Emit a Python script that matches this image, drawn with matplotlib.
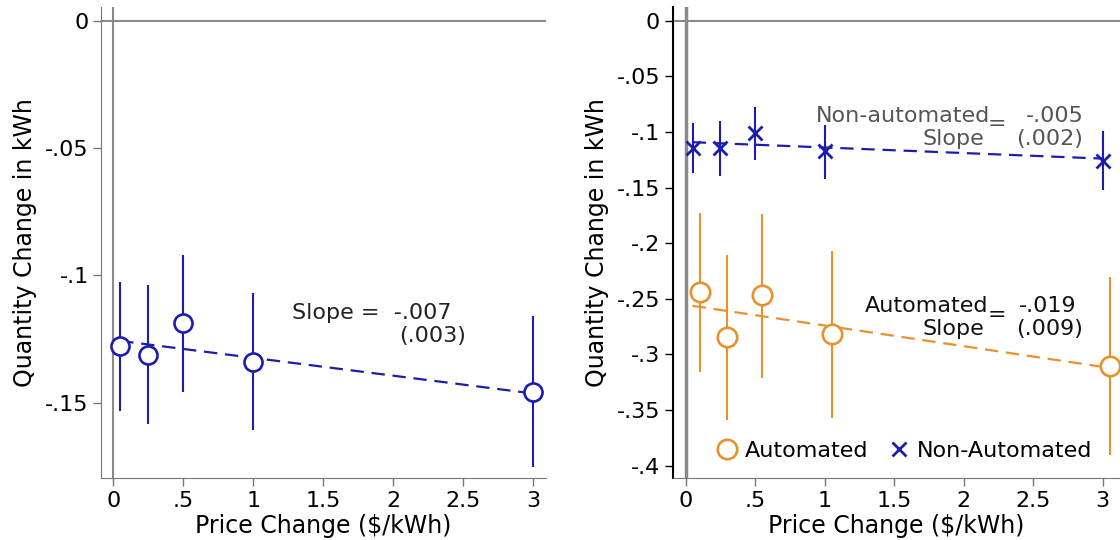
import matplotlib
matplotlib.use('Agg')
import matplotlib.pyplot as plt
from matplotlib.lines import Line2D
import numpy as np

plt.rcParams['font.family'] = ['DejaVu Sans']

# left panel: all households
price_all = [0.05, 0.25, 0.5, 1, 3]
qty_all = [-0.1278, -0.1312, -0.1187, -0.1339, -0.1457]
hi_all = [-0.1028, -0.1037, -0.0920, -0.1069, -0.1160]
lo_all = [-0.1531, -0.1585, -0.1458, -0.1607, -0.1751]
fit_all = (-0.1254, -0.007)

# right panel: automated vs non-automated
price_auto = [0.1, 0.3, 0.55, 1.05, 3.05]
qty_auto = [-0.2440, -0.2842, -0.2470, -0.2817, -0.3105]
hi_auto = [-0.1728, -0.2105, -0.1740, -0.2074, -0.2307]
lo_auto = [-0.3158, -0.3585, -0.3214, -0.3567, -0.3907]
fit_auto = (-0.2554, -0.0186)

price_non = [0.05, 0.25, 0.5, 1, 3]
qty_non = [-0.1146, -0.1146, -0.1012, -0.1176, -0.1257]
hi_non = [-0.0920, -0.0898, -0.0780, -0.0938, -0.0990]
lo_non = [-0.1370, -0.1393, -0.1254, -0.1424, -0.1523]
fit_non = (-0.1090, -0.005)

xticks = [0, 0.5, 1, 1.5, 2, 2.5, 3]
xticklabels = ['0', '.5', '1', '1.5', '2', '2.5', '3']
yticks_left = [0, -0.05, -0.1, -0.15]
yticklabels_left = ['0', '-.05', '-.1', '-.15']
yticks_right = [0, -0.05, -0.1, -0.15, -0.2, -0.25, -0.3, -0.35, -0.4]
yticklabels_right = ['0', '-.05', '-.1', '-.15', '-.2', '-.25', '-.3', '-.35', '-.4']

BLUE = '#1c1cb0'
ORANGE = '#e8922e'
GRAY = '#8a8a8a'
FS = 16


def err(q, lo, hi):
    q, lo, hi = np.array(q), np.array(lo), np.array(hi)
    return [q - lo, hi - q]


def style(ax, spine_color):
    for s in ['top', 'right']:
        ax.spines[s].set_visible(False)
    ax.spines['left'].set_color(spine_color)
    ax.spines['bottom'].set_color('#777777')
    ax.tick_params(direction='out', length=6, width=1, labelsize=FS, pad=3)
    ax.tick_params(axis='x', color='#777777')
    ax.tick_params(axis='y', color=spine_color)
    ax.set_xticks(xticks)
    ax.set_xticklabels(xticklabels)
    ax.set_xlabel('Price Change ($/kWh)', fontsize=17)
    ax.set_ylabel('Quantity Change in kWh', fontsize=17)


fig = plt.figure(figsize=(11.2, 5.4), dpi=100)

# ---- left
ax1 = fig.add_axes([0.0904, 0.1143, 0.397, 0.8722])
ax1.axhline(0, color=GRAY, lw=1.5, zorder=1)
ax1.axvline(0, color=GRAY, lw=1.5, zorder=1)
xs = np.array([price_all[0], price_all[-1]])
ax1.plot(xs, fit_all[0] + fit_all[1] * xs, color=BLUE, lw=1.6, dashes=(6, 3.5), zorder=2)
ax1.errorbar(price_all, qty_all, yerr=err(qty_all, lo_all, hi_all), fmt='o', color=BLUE,
             ecolor=BLUE, elinewidth=1.5, ms=13, mfc='white', mec=BLUE, mew=1.9, zorder=3)
ax1.text(1.276, -0.1149, 'Slope =  -.007', fontsize=FS, color='#222222', ha='left', va='center')
ax1.text(2.52, -0.1237, '(.003)', fontsize=FS, color='#222222', ha='right', va='center')
ax1.set_xlim(-0.0857, 3.091)
ax1.set_ylim(-0.1797, 0.0053)
ax1.set_yticks(yticks_left)
ax1.set_yticklabels(yticklabels_left)
style(ax1, '#777777')
ax1.yaxis.set_label_coords(-0.145, 0.5)
ax1.xaxis.set_label_coords(0.5, -0.076)

# ---- right
ax2 = fig.add_axes([0.6006, 0.1143, 0.3994, 0.8722])
ax2.axhline(0, color=GRAY, lw=1.5, zorder=1)
ax2.axvline(0, color=GRAY, lw=2.5, zorder=1)
xs = np.array([price_non[0], price_non[-1]])
ax2.plot(xs, fit_non[0] + fit_non[1] * xs, color=BLUE, lw=1.6, dashes=(6, 3.5), zorder=2)
xs = np.array([price_non[0], price_auto[-1]])
ax2.plot(xs, fit_auto[0] + fit_auto[1] * xs, color=ORANGE, lw=1.6, dashes=(6, 3.5), zorder=2)
ax2.errorbar(price_auto, qty_auto, yerr=err(qty_auto, lo_auto, hi_auto), fmt='o', color=ORANGE,
             ecolor=ORANGE, elinewidth=1.5, ms=14, mfc='white', mec=ORANGE, mew=1.9, zorder=3)
ax2.errorbar(price_non, qty_non, yerr=err(qty_non, lo_non, hi_non), fmt='x', color=BLUE,
             ecolor=BLUE, elinewidth=1.5, ms=10, mew=2, zorder=3)

ax2.text(2.19, -0.0860, 'Non-automated', fontsize=FS, color='#555555', ha='right', va='center')
ax2.text(2.15, -0.1068, 'Slope', fontsize=FS, color='#555555', ha='right', va='center')
ax2.text(2.24, -0.0929, '=', fontsize=FS, color='#555555', ha='center', va='center')
ax2.text(2.86, -0.0860, '-.005', fontsize=FS, color='#555555', ha='right', va='center')
ax2.text(2.86, -0.1068, '(.002)', fontsize=FS, color='#555555', ha='right', va='center')

ax2.text(2.18, -0.2563, 'Automated', fontsize=FS, color='#111111', ha='right', va='center')
ax2.text(2.15, -0.2770, 'Slope', fontsize=FS, color='#111111', ha='right', va='center')
ax2.text(2.24, -0.2645, '=', fontsize=FS, color='#111111', ha='center', va='center')
ax2.text(2.81, -0.2563, '-.019', fontsize=FS, color='#111111', ha='right', va='center')
ax2.text(2.86, -0.2770, '(.009)', fontsize=FS, color='#111111', ha='right', va='center')

ax2.set_xlim(-0.0935, 3.124)
ax2.set_ylim(-0.4113, 0.012)
ax2.set_yticks(yticks_right)
ax2.set_yticklabels(yticklabels_right)
style(ax2, 'black')
ax2.spines['left'].set_linewidth(1.5)
ax2.yaxis.set_label_coords(-0.142, 0.5)
ax2.xaxis.set_label_coords(0.5, -0.076)

handles = [Line2D([], [], ls='none', marker='o', ms=14, mfc='white', mec=ORANGE, mew=1.9),
           Line2D([], [], ls='none', marker='x', ms=10, mec=BLUE, mew=2)]
ax2.legend(handles, ['Automated', 'Non-Automated'], loc='center', ncol=2, frameon=False,
           fontsize=FS, handletextpad=0.2, columnspacing=0.8, handlelength=1.2,
           bbox_to_anchor=(0.806, 0.1654), bbox_transform=fig.transFigure)

fig.savefig('out.png', dpi=100)
